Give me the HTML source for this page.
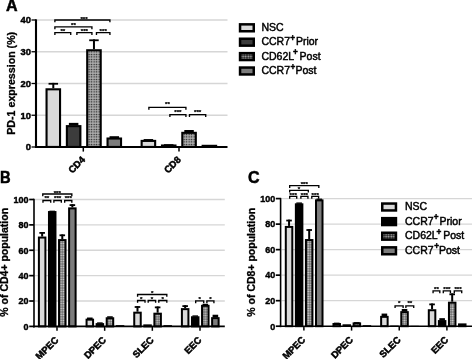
<!DOCTYPE html>
<html><head><meta charset="utf-8"><style>
html,body{margin:0;padding:0;background:#fff;width:472px;height:359px;overflow:hidden}
svg{display:block;font-family:"Liberation Sans", sans-serif;filter:grayscale(1)}
</style></head><body>
<svg width="472" height="359" viewBox="0 0 472 359" font-family='"Liberation Sans", sans-serif'>
<defs>
<pattern id="dotA" x="0.4" y="0.6" width="2.5" height="2.5" patternUnits="userSpaceOnUse"><rect width="2.5" height="2.5" fill="#acacac"/><circle cx="1.25" cy="1.25" r="0.72" fill="#1a1a1a"/></pattern>
<pattern id="dotB" width="2.4" height="2.4" patternUnits="userSpaceOnUse"><rect width="2.4" height="2.4" fill="#6a6a6a"/><circle cx="1.2" cy="1.2" r="0.85" fill="#d4d4d4"/></pattern>
<pattern id="dotL" width="2.6" height="2.4" patternUnits="userSpaceOnUse"><rect width="2.6" height="2.4" fill="#222"/><circle cx="1.3" cy="1.2" r="0.9" fill="#b0b0b0"/></pattern>
</defs>
<rect width="472" height="359" fill="#fff"/>
<line x1="37" y1="115.25" x2="227.5" y2="115.25" stroke="#d6d6d6" stroke-width="1.3"/>
<line x1="37" y1="83.5" x2="227.5" y2="83.5" stroke="#d6d6d6" stroke-width="1.3"/>
<line x1="37" y1="51.75" x2="227.5" y2="51.75" stroke="#d6d6d6" stroke-width="1.3"/>
<line x1="37" y1="20" x2="227.5" y2="20" stroke="#d6d6d6" stroke-width="1.3"/>
<line x1="53.3" y1="88.26" x2="53.3" y2="82.87" stroke="#000" stroke-width="2"/>
<line x1="48.55" y1="83.77" x2="58.05" y2="83.77" stroke="#000" stroke-width="1.8"/>
<rect x="46.55" y="89.31" width="13.5" height="57.64" fill="#dadada" stroke="#000" stroke-width="2.1"/>
<rect x="68.88" y="122.87" width="9.5" height="2.72" fill="#000"/>
<rect x="66.88" y="126.14" width="13.5" height="20.81" fill="#3c3c3c" stroke="#000" stroke-width="2.1"/>
<line x1="93.96" y1="49.21" x2="93.96" y2="39.37" stroke="#000" stroke-width="2"/>
<line x1="89.21" y1="40.27" x2="98.71" y2="40.27" stroke="#000" stroke-width="1.8"/>
<rect x="87.21" y="50.26" width="13.5" height="96.69" fill="url(#dotA)" stroke="#000" stroke-width="2.1"/>
<rect x="109.54" y="136.21" width="9.5" height="1.77" fill="#000"/>
<rect x="107.54" y="138.53" width="13.5" height="8.43" fill="#7c7c7c" stroke="#000" stroke-width="2.1"/>
<rect x="143.65" y="139.06" width="9.5" height="1.29" fill="#000"/>
<rect x="141.65" y="140.91" width="13.5" height="6.04" fill="#dadada" stroke="#000" stroke-width="2.1"/>
<rect x="163.98" y="144.14" width="9.5" height="0.82" fill="#000"/>
<rect x="161.98" y="145.51" width="13.5" height="1.44" fill="#3c3c3c" stroke="#000" stroke-width="2.1"/>
<rect x="184.31" y="130.01" width="9.5" height="2.28" fill="#000"/>
<rect x="182.31" y="132.84" width="13.5" height="14.11" fill="url(#dotA)" stroke="#000" stroke-width="2.1"/>
<rect x="202.64" y="145.83" width="13.5" height="1.12" fill="#7c7c7c" stroke="#000" stroke-width="2.1"/>
<line x1="36" y1="19.3" x2="36" y2="148" stroke="#000" stroke-width="2.1"/>
<line x1="35" y1="147" x2="227.5" y2="147" stroke="#000" stroke-width="2.1"/>
<line x1="31.5" y1="147" x2="36" y2="147" stroke="#000" stroke-width="1.3"/>
<text x="30.9" y="150.35" font-size="9.4" font-weight="bold" text-anchor="end" stroke="#000" stroke-width="0.45" >0</text>
<line x1="31.5" y1="115.25" x2="36" y2="115.25" stroke="#000" stroke-width="1.3"/>
<text x="30.9" y="118.6" font-size="9.4" font-weight="bold" text-anchor="end" stroke="#000" stroke-width="0.45" >10</text>
<line x1="31.5" y1="83.5" x2="36" y2="83.5" stroke="#000" stroke-width="1.3"/>
<text x="30.9" y="86.85" font-size="9.4" font-weight="bold" text-anchor="end" stroke="#000" stroke-width="0.45" >20</text>
<line x1="31.5" y1="51.75" x2="36" y2="51.75" stroke="#000" stroke-width="1.3"/>
<text x="30.9" y="55.1" font-size="9.4" font-weight="bold" text-anchor="end" stroke="#000" stroke-width="0.45" >30</text>
<line x1="31.5" y1="20" x2="36" y2="20" stroke="#000" stroke-width="1.3"/>
<text x="30.9" y="23.35" font-size="9.4" font-weight="bold" text-anchor="end" stroke="#000" stroke-width="0.45" >40</text>
<line x1="83.3" y1="147" x2="83.3" y2="151.6" stroke="#000" stroke-width="1.5"/>
<text transform="translate(85.7,160.3) rotate(-45)" font-size="9.5" font-weight="bold" text-anchor="end" stroke="#000" stroke-width="0.5">CD4</text>
<line x1="179" y1="147" x2="179" y2="151.6" stroke="#000" stroke-width="1.5"/>
<text transform="translate(181.4,160.3) rotate(-45)" font-size="9.5" font-weight="bold" text-anchor="end" stroke="#000" stroke-width="0.5">CD8</text>
<path d="M54.88 22.3V20H109.92V22.3" fill="none" stroke="#000" stroke-width="1.35"/>
<text x="84" y="21.2" font-size="6.2" font-weight="bold" text-anchor="middle" stroke="#000" stroke-width="0.25" >***</text>
<path d="M54.88 29.2V26.9H91.92V29.2" fill="none" stroke="#000" stroke-width="1.35"/>
<text x="73.4" y="26.6" font-size="6.2" font-weight="bold" text-anchor="middle" stroke="#000" stroke-width="0.25" >**</text>
<path d="M54.88 34.9V32.6H70.73V34.9" fill="none" stroke="#000" stroke-width="1.35"/>
<text x="62.8" y="33" font-size="6.2" font-weight="bold" text-anchor="middle" stroke="#000" stroke-width="0.25" >**</text>
<path d="M76.88 34.9V32.6H91.92V34.9" fill="none" stroke="#000" stroke-width="1.35"/>
<text x="84.4" y="33" font-size="6.2" font-weight="bold" text-anchor="middle" stroke="#000" stroke-width="0.25" >***</text>
<path d="M96.47 34.9V32.6H109.92V34.9" fill="none" stroke="#000" stroke-width="1.35"/>
<text x="103.2" y="33" font-size="6.2" font-weight="bold" text-anchor="middle" stroke="#000" stroke-width="0.25" >***</text>
<path d="M148.88 109.7V107.4H185.92V109.7" fill="none" stroke="#000" stroke-width="1.35"/>
<text x="167.4" y="106.4" font-size="6.2" font-weight="bold" text-anchor="middle" stroke="#000" stroke-width="0.25" >**</text>
<path d="M169.88 116.9V114.6H185.92V116.9" fill="none" stroke="#000" stroke-width="1.35"/>
<text x="177.9" y="113.6" font-size="6.2" font-weight="bold" text-anchor="middle" stroke="#000" stroke-width="0.25" >***</text>
<path d="M189.48 116.9V114.6H205.72V116.9" fill="none" stroke="#000" stroke-width="1.35"/>
<text x="197.6" y="113.6" font-size="6.2" font-weight="bold" text-anchor="middle" stroke="#000" stroke-width="0.25" >***</text>
<text transform="translate(14.6,83.3) rotate(-90)" font-size="10.65" font-weight="bold" text-anchor="middle" stroke="#000" stroke-width="0.3">PD-1 expression (%)</text>
<text x="5.9" y="11.2" font-size="16" font-weight="bold" text-anchor="start" stroke="#000" stroke-width="0.5" >A</text>
<rect x="240.05" y="24.35" width="13.7" height="6.9" fill="#dadada" stroke="#000" stroke-width="2.5"/>
<text x="261.4" y="31" font-size="10.5" font-weight="normal" text-anchor="start" stroke="#000" stroke-width="0.45" >NSC</text>
<rect x="240.05" y="38.75" width="13.7" height="6.9" fill="#3c3c3c" stroke="#000" stroke-width="2.5"/>
<text x="261.4" y="45.4" font-size="10.5" font-weight="normal" text-anchor="start" stroke="#000" stroke-width="0.45" >CCR7<tspan x="290.2" font-size="8.2" font-weight="bold" dy="-4.6">+</tspan><tspan x="295.9" dy="4.6">Prior</tspan></text>
<rect x="240.05" y="53.15" width="13.7" height="6.9" fill="url(#dotL)" stroke="#000" stroke-width="2.5"/>
<text x="261.4" y="59.8" font-size="10.5" font-weight="normal" text-anchor="start" stroke="#000" stroke-width="0.45" >CD62L<tspan x="292.9" font-size="8.2" font-weight="bold" dy="-4.6">+</tspan><tspan x="299.6" dy="4.6">Post</tspan></text>
<rect x="240.05" y="67.55" width="13.7" height="6.9" fill="#7c7c7c" stroke="#000" stroke-width="2.5"/>
<text x="261.4" y="74.2" font-size="10.5" font-weight="normal" text-anchor="start" stroke="#000" stroke-width="0.45" >CCR7<tspan x="290.6" font-size="8.2" font-weight="bold" dy="-4.6">+</tspan><tspan x="295.4" dy="4.6">Post</tspan></text>
<line x1="35" y1="301.02" x2="224.8" y2="301.02" stroke="#d6d6d6" stroke-width="1.3"/>
<line x1="35" y1="275.64" x2="224.8" y2="275.64" stroke="#d6d6d6" stroke-width="1.3"/>
<line x1="35" y1="250.26" x2="224.8" y2="250.26" stroke="#d6d6d6" stroke-width="1.3"/>
<line x1="35" y1="224.88" x2="224.8" y2="224.88" stroke="#d6d6d6" stroke-width="1.3"/>
<line x1="35" y1="199.5" x2="224.8" y2="199.5" stroke="#d6d6d6" stroke-width="1.3"/>
<line x1="42.15" y1="236.55" x2="42.15" y2="231.99" stroke="#000" stroke-width="2"/>
<line x1="39.35" y1="232.89" x2="44.95" y2="232.89" stroke="#000" stroke-width="1.8"/>
<rect x="38.9" y="237.55" width="6.5" height="88.85" fill="#dadada" stroke="#000" stroke-width="2"/>
<rect x="49.42" y="210.67" width="5.6" height="0.88" fill="#000"/>
<rect x="48.97" y="212.05" width="6.5" height="114.35" fill="#000000" stroke="#000" stroke-width="2"/>
<line x1="62.29" y1="239.09" x2="62.29" y2="234.4" stroke="#000" stroke-width="2"/>
<line x1="59.49" y1="235.3" x2="65.09" y2="235.3" stroke="#000" stroke-width="1.8"/>
<rect x="59.04" y="240.09" width="6.5" height="86.31" fill="url(#dotB)" stroke="#000" stroke-width="2"/>
<line x1="72.36" y1="207.37" x2="72.36" y2="204.2" stroke="#000" stroke-width="2"/>
<line x1="69.56" y1="205.1" x2="75.16" y2="205.1" stroke="#000" stroke-width="1.8"/>
<rect x="69.11" y="208.37" width="6.5" height="118.03" fill="#7c7c7c" stroke="#000" stroke-width="2"/>
<rect x="87.02" y="317.52" width="5.6" height="1.64" fill="#000"/>
<rect x="86.57" y="319.66" width="6.5" height="6.74" fill="#dadada" stroke="#000" stroke-width="2"/>
<rect x="97.09" y="322.34" width="5.6" height="1.26" fill="#000"/>
<rect x="96.64" y="324.1" width="6.5" height="2.3" fill="#000000" stroke="#000" stroke-width="2"/>
<rect x="107.16" y="316.25" width="5.6" height="1.52" fill="#000"/>
<rect x="106.71" y="318.26" width="6.5" height="8.14" fill="url(#dotB)" stroke="#000" stroke-width="2"/>
<rect x="115.78" y="325.13" width="8.5" height="1.27" fill="#000"/>
<line x1="137.49" y1="311.68" x2="137.49" y2="306.1" stroke="#000" stroke-width="2"/>
<line x1="134.69" y1="307" x2="140.29" y2="307" stroke="#000" stroke-width="1.8"/>
<rect x="134.24" y="312.68" width="6.5" height="13.72" fill="#dadada" stroke="#000" stroke-width="2"/>
<rect x="144.31" y="325.37" width="6.5" height="1.03" fill="#000000" stroke="#000" stroke-width="2"/>
<line x1="157.63" y1="312.69" x2="157.63" y2="306.48" stroke="#000" stroke-width="2"/>
<line x1="154.83" y1="307.38" x2="160.43" y2="307.38" stroke="#000" stroke-width="1.8"/>
<rect x="154.38" y="313.69" width="6.5" height="12.71" fill="url(#dotB)" stroke="#000" stroke-width="2"/>
<rect x="163.45" y="325.13" width="8.5" height="1.27" fill="#000"/>
<line x1="185.16" y1="308.13" x2="185.16" y2="305.21" stroke="#000" stroke-width="2"/>
<line x1="182.36" y1="306.11" x2="187.96" y2="306.11" stroke="#000" stroke-width="1.8"/>
<rect x="181.91" y="309.13" width="6.5" height="17.27" fill="#dadada" stroke="#000" stroke-width="2"/>
<rect x="192.43" y="315.36" width="5.6" height="1.39" fill="#000"/>
<rect x="191.98" y="317.25" width="6.5" height="9.15" fill="#000000" stroke="#000" stroke-width="2"/>
<rect x="202.5" y="303.81" width="5.6" height="1.52" fill="#000"/>
<rect x="202.05" y="305.83" width="6.5" height="20.57" fill="url(#dotB)" stroke="#000" stroke-width="2"/>
<rect x="212.57" y="314.73" width="5.6" height="2.91" fill="#000"/>
<rect x="212.12" y="318.14" width="6.5" height="8.26" fill="#7c7c7c" stroke="#000" stroke-width="2"/>
<line x1="34" y1="198.8" x2="34" y2="327.4" stroke="#000" stroke-width="1.6"/>
<line x1="33.2" y1="326.4" x2="224.8" y2="326.4" stroke="#000" stroke-width="1.6"/>
<line x1="29.2" y1="326.4" x2="34" y2="326.4" stroke="#000" stroke-width="1.7"/>
<text x="28.6" y="329.7" font-size="9" font-weight="bold" text-anchor="end" stroke="#000" stroke-width="0.4" >0</text>
<line x1="29.2" y1="301.02" x2="34" y2="301.02" stroke="#000" stroke-width="1.7"/>
<text x="28.6" y="304.32" font-size="9" font-weight="bold" text-anchor="end" stroke="#000" stroke-width="0.4" >20</text>
<line x1="29.2" y1="275.64" x2="34" y2="275.64" stroke="#000" stroke-width="1.7"/>
<text x="28.6" y="278.94" font-size="9" font-weight="bold" text-anchor="end" stroke="#000" stroke-width="0.4" >40</text>
<line x1="29.2" y1="250.26" x2="34" y2="250.26" stroke="#000" stroke-width="1.7"/>
<text x="28.6" y="253.56" font-size="9" font-weight="bold" text-anchor="end" stroke="#000" stroke-width="0.4" >60</text>
<line x1="29.2" y1="224.88" x2="34" y2="224.88" stroke="#000" stroke-width="1.7"/>
<text x="28.6" y="228.18" font-size="9" font-weight="bold" text-anchor="end" stroke="#000" stroke-width="0.4" >80</text>
<line x1="29.2" y1="199.5" x2="34" y2="199.5" stroke="#000" stroke-width="1.7"/>
<text x="28.6" y="202.8" font-size="9" font-weight="bold" text-anchor="end" stroke="#000" stroke-width="0.4" >100</text>
<line x1="57" y1="326.4" x2="57" y2="330.8" stroke="#000" stroke-width="1.5"/>
<text transform="translate(59,340.6) rotate(-45)" font-size="9.5" font-weight="bold" text-anchor="end" stroke="#000" stroke-width="0.5">MPEC</text>
<line x1="104.67" y1="326.4" x2="104.67" y2="330.8" stroke="#000" stroke-width="1.5"/>
<text transform="translate(106.67,340.6) rotate(-45)" font-size="9.5" font-weight="bold" text-anchor="end" stroke="#000" stroke-width="0.5">DPEC</text>
<line x1="152.34" y1="326.4" x2="152.34" y2="330.8" stroke="#000" stroke-width="1.5"/>
<text transform="translate(154.34,340.6) rotate(-45)" font-size="9.5" font-weight="bold" text-anchor="end" stroke="#000" stroke-width="0.5">SLEC</text>
<line x1="200.01" y1="326.4" x2="200.01" y2="330.8" stroke="#000" stroke-width="1.5"/>
<text transform="translate(202.01,340.6) rotate(-45)" font-size="9.5" font-weight="bold" text-anchor="end" stroke="#000" stroke-width="0.5">EEC</text>
<path d="M42.77 196.3V194H71.83V196.3" fill="none" stroke="#000" stroke-width="1.35"/>
<text x="57.3" y="194.75" font-size="6.2" font-weight="bold" text-anchor="middle" stroke="#000" stroke-width="0.25" >***</text>
<path d="M42.97 202.8V200.5H50.73V202.8" fill="none" stroke="#000" stroke-width="1.35"/>
<text x="46.85" y="200.2" font-size="6.2" font-weight="bold" text-anchor="middle" stroke="#000" stroke-width="0.25" >**</text>
<path d="M53.88 202.8V200.5H61.33V202.8" fill="none" stroke="#000" stroke-width="1.35"/>
<text x="57.6" y="200.2" font-size="6.2" font-weight="bold" text-anchor="middle" stroke="#000" stroke-width="0.25" >***</text>
<path d="M64.67 202.8V200.5H71.83V202.8" fill="none" stroke="#000" stroke-width="1.35"/>
<text x="68.25" y="200.2" font-size="6.2" font-weight="bold" text-anchor="middle" stroke="#000" stroke-width="0.25" >***</text>
<path d="M137.58 296.8V294.5H166.82V296.8" fill="none" stroke="#000" stroke-width="1.35"/>
<text x="152.2" y="294.85" font-size="6.2" font-weight="bold" text-anchor="middle" stroke="#000" stroke-width="0.25" >*</text>
<path d="M137.58 302.8V300.5H145.02V302.8" fill="none" stroke="#000" stroke-width="1.35"/>
<text x="141.3" y="300.6" font-size="6.2" font-weight="bold" text-anchor="middle" stroke="#000" stroke-width="0.25" >*</text>
<path d="M148.18 302.8V300.5H155.62V302.8" fill="none" stroke="#000" stroke-width="1.35"/>
<text x="151.9" y="300.6" font-size="6.2" font-weight="bold" text-anchor="middle" stroke="#000" stroke-width="0.25" >*</text>
<path d="M158.78 302.8V300.5H166.82V302.8" fill="none" stroke="#000" stroke-width="1.35"/>
<text x="162.8" y="300.6" font-size="6.2" font-weight="bold" text-anchor="middle" stroke="#000" stroke-width="0.25" >*</text>
<path d="M195.68 303.2V300.9H203.72V303.2" fill="none" stroke="#000" stroke-width="1.35"/>
<text x="199.7" y="300.75" font-size="6.2" font-weight="bold" text-anchor="middle" stroke="#000" stroke-width="0.25" >*</text>
<path d="M206.88 303.2V300.9H213.92V303.2" fill="none" stroke="#000" stroke-width="1.35"/>
<text x="210.4" y="300.75" font-size="6.2" font-weight="bold" text-anchor="middle" stroke="#000" stroke-width="0.25" >*</text>
<text transform="translate(8.3,262.3) rotate(-90)" font-size="10.5" font-weight="bold" text-anchor="middle" stroke="#000" stroke-width="0.3">% of CD4+ population</text>
<text transform="translate(0.1,183.1) scale(0.92,1)" font-size="16" font-weight="bold" stroke="#000" stroke-width="0.5">B</text>
<line x1="281.6" y1="300.68" x2="472" y2="300.68" stroke="#d6d6d6" stroke-width="1.3"/>
<line x1="281.6" y1="275.16" x2="472" y2="275.16" stroke="#d6d6d6" stroke-width="1.3"/>
<line x1="281.6" y1="249.64" x2="472" y2="249.64" stroke="#d6d6d6" stroke-width="1.3"/>
<line x1="281.6" y1="224.12" x2="472" y2="224.12" stroke="#d6d6d6" stroke-width="1.3"/>
<line x1="281.6" y1="198.6" x2="472" y2="198.6" stroke="#d6d6d6" stroke-width="1.3"/>
<line x1="289.05" y1="225.91" x2="289.05" y2="219.65" stroke="#000" stroke-width="2"/>
<line x1="286.25" y1="220.55" x2="291.85" y2="220.55" stroke="#000" stroke-width="1.8"/>
<rect x="285.8" y="226.91" width="6.5" height="99.29" fill="#dadada" stroke="#000" stroke-width="2"/>
<rect x="296.32" y="202.43" width="5.6" height="1.39" fill="#000"/>
<rect x="295.87" y="204.32" width="6.5" height="121.88" fill="#000000" stroke="#000" stroke-width="2"/>
<line x1="309.19" y1="239.05" x2="309.19" y2="229.1" stroke="#000" stroke-width="2"/>
<line x1="306.39" y1="230" x2="311.99" y2="230" stroke="#000" stroke-width="1.8"/>
<rect x="305.94" y="240.05" width="6.5" height="86.15" fill="url(#dotB)" stroke="#000" stroke-width="2"/>
<rect x="316.46" y="198.6" width="5.6" height="1.27" fill="#000"/>
<rect x="316.01" y="200.37" width="6.5" height="125.83" fill="#7c7c7c" stroke="#000" stroke-width="2"/>
<rect x="333.92" y="322.63" width="5.6" height="0.88" fill="#000"/>
<rect x="333.47" y="324.01" width="6.5" height="2.19" fill="#dadada" stroke="#000" stroke-width="2"/>
<rect x="342.54" y="324.29" width="8.5" height="1.91" fill="#000"/>
<rect x="354.06" y="321.99" width="5.6" height="0.88" fill="#000"/>
<rect x="353.61" y="323.37" width="6.5" height="2.83" fill="url(#dotB)" stroke="#000" stroke-width="2"/>
<rect x="362.68" y="325.18" width="8.5" height="1.02" fill="#000"/>
<rect x="381.59" y="313.57" width="5.6" height="2.8" fill="#000"/>
<rect x="381.14" y="316.86" width="6.5" height="9.34" fill="#dadada" stroke="#000" stroke-width="2"/>
<rect x="390.21" y="325.56" width="8.5" height="0.64" fill="#000"/>
<rect x="401.73" y="308.97" width="5.6" height="2.67" fill="#000"/>
<rect x="401.28" y="312.14" width="6.5" height="14.06" fill="url(#dotB)" stroke="#000" stroke-width="2"/>
<rect x="410.35" y="325.82" width="8.5" height="0.38" fill="#000"/>
<line x1="432.06" y1="309.23" x2="432.06" y2="303.49" stroke="#000" stroke-width="2"/>
<line x1="429.26" y1="304.39" x2="434.86" y2="304.39" stroke="#000" stroke-width="1.8"/>
<rect x="428.81" y="310.23" width="6.5" height="15.97" fill="#dadada" stroke="#000" stroke-width="2"/>
<rect x="439.33" y="318.16" width="5.6" height="2.41" fill="#000"/>
<rect x="438.88" y="321.08" width="6.5" height="5.12" fill="#000000" stroke="#000" stroke-width="2"/>
<line x1="452.2" y1="301.7" x2="452.2" y2="293.41" stroke="#000" stroke-width="2"/>
<line x1="449.4" y1="294.31" x2="455" y2="294.31" stroke="#000" stroke-width="1.8"/>
<rect x="448.95" y="302.7" width="6.5" height="23.5" fill="url(#dotB)" stroke="#000" stroke-width="2"/>
<rect x="459.02" y="324.39" width="6.5" height="1.81" fill="#7c7c7c" stroke="#000" stroke-width="2"/>
<line x1="280.6" y1="197.9" x2="280.6" y2="327.2" stroke="#000" stroke-width="1.6"/>
<line x1="279.8" y1="326.2" x2="472" y2="326.2" stroke="#000" stroke-width="1.6"/>
<line x1="275.8" y1="326.2" x2="280.6" y2="326.2" stroke="#000" stroke-width="1.7"/>
<text x="275.2" y="329.5" font-size="9" font-weight="bold" text-anchor="end" stroke="#000" stroke-width="0.4" >0</text>
<line x1="275.8" y1="300.68" x2="280.6" y2="300.68" stroke="#000" stroke-width="1.7"/>
<text x="275.2" y="303.98" font-size="9" font-weight="bold" text-anchor="end" stroke="#000" stroke-width="0.4" >20</text>
<line x1="275.8" y1="275.16" x2="280.6" y2="275.16" stroke="#000" stroke-width="1.7"/>
<text x="275.2" y="278.46" font-size="9" font-weight="bold" text-anchor="end" stroke="#000" stroke-width="0.4" >40</text>
<line x1="275.8" y1="249.64" x2="280.6" y2="249.64" stroke="#000" stroke-width="1.7"/>
<text x="275.2" y="252.94" font-size="9" font-weight="bold" text-anchor="end" stroke="#000" stroke-width="0.4" >60</text>
<line x1="275.8" y1="224.12" x2="280.6" y2="224.12" stroke="#000" stroke-width="1.7"/>
<text x="275.2" y="227.42" font-size="9" font-weight="bold" text-anchor="end" stroke="#000" stroke-width="0.4" >80</text>
<line x1="275.8" y1="198.6" x2="280.6" y2="198.6" stroke="#000" stroke-width="1.7"/>
<text x="275.2" y="201.9" font-size="9" font-weight="bold" text-anchor="end" stroke="#000" stroke-width="0.4" >100</text>
<line x1="303.9" y1="326.2" x2="303.9" y2="330.6" stroke="#000" stroke-width="1.5"/>
<text transform="translate(305.9,340.4) rotate(-45)" font-size="9.5" font-weight="bold" text-anchor="end" stroke="#000" stroke-width="0.5">MPEC</text>
<line x1="351.57" y1="326.2" x2="351.57" y2="330.6" stroke="#000" stroke-width="1.5"/>
<text transform="translate(353.57,340.4) rotate(-45)" font-size="9.5" font-weight="bold" text-anchor="end" stroke="#000" stroke-width="0.5">DPEC</text>
<line x1="399.24" y1="326.2" x2="399.24" y2="330.6" stroke="#000" stroke-width="1.5"/>
<text transform="translate(401.24,340.4) rotate(-45)" font-size="9.5" font-weight="bold" text-anchor="end" stroke="#000" stroke-width="0.5">SLEC</text>
<line x1="446.91" y1="326.2" x2="446.91" y2="330.6" stroke="#000" stroke-width="1.5"/>
<text transform="translate(448.91,340.4) rotate(-45)" font-size="9.5" font-weight="bold" text-anchor="end" stroke="#000" stroke-width="0.5">EEC</text>
<path d="M289.68 187.9V185.6H318.82V187.9" fill="none" stroke="#000" stroke-width="1.35"/>
<text x="304.25" y="186.25" font-size="6.2" font-weight="bold" text-anchor="middle" stroke="#000" stroke-width="0.25" >***</text>
<path d="M289.68 192.6V190.3H308.32V192.6" fill="none" stroke="#000" stroke-width="1.35"/>
<text x="299" y="191.3" font-size="6.2" font-weight="bold" text-anchor="middle" stroke="#000" stroke-width="0.25" >*</text>
<path d="M289.68 198.7V196.4H296.72V198.7" fill="none" stroke="#000" stroke-width="1.35"/>
<text x="293.2" y="196.5" font-size="6.2" font-weight="bold" text-anchor="middle" stroke="#000" stroke-width="0.25" >***</text>
<path d="M300.88 198.7V196.4H307.93V198.7" fill="none" stroke="#000" stroke-width="1.35"/>
<text x="304.4" y="196.5" font-size="6.2" font-weight="bold" text-anchor="middle" stroke="#000" stroke-width="0.25" >***</text>
<path d="M311.78 198.7V196.4H318.62V198.7" fill="none" stroke="#000" stroke-width="1.35"/>
<text x="315.2" y="196.5" font-size="6.2" font-weight="bold" text-anchor="middle" stroke="#000" stroke-width="0.25" >***</text>
<path d="M395.07 308.1V305.8H403.12V308.1" fill="none" stroke="#000" stroke-width="1.35"/>
<text x="399.1" y="304.7" font-size="6.2" font-weight="bold" text-anchor="middle" stroke="#000" stroke-width="0.25" >*</text>
<path d="M405.88 308.1V305.8H413.72V308.1" fill="none" stroke="#000" stroke-width="1.35"/>
<text x="409.8" y="304.7" font-size="6.2" font-weight="bold" text-anchor="middle" stroke="#000" stroke-width="0.25" >**</text>
<path d="M433.07 293.2V290.9H439.82V293.2" fill="none" stroke="#000" stroke-width="1.35"/>
<text x="436.45" y="290.8" font-size="6.2" font-weight="bold" text-anchor="middle" stroke="#000" stroke-width="0.25" >**</text>
<path d="M443.28 293.2V290.9H450.43V293.2" fill="none" stroke="#000" stroke-width="1.35"/>
<text x="446.85" y="290.8" font-size="6.2" font-weight="bold" text-anchor="middle" stroke="#000" stroke-width="0.25" >***</text>
<path d="M454.28 293.2V290.9H461.72V293.2" fill="none" stroke="#000" stroke-width="1.35"/>
<text x="458" y="290.8" font-size="6.2" font-weight="bold" text-anchor="middle" stroke="#000" stroke-width="0.25" >***</text>
<text transform="translate(255.2,262.3) rotate(-90)" font-size="10.5" font-weight="bold" text-anchor="middle" stroke="#000" stroke-width="0.3">% of CD8+ population</text>
<text x="248" y="183.1" font-size="16" font-weight="bold" text-anchor="start" stroke="#000" stroke-width="0.5" >C</text>
<rect x="382.25" y="203.55" width="13.7" height="6.9" fill="#dadada" stroke="#000" stroke-width="2.5"/>
<text x="405" y="210.2" font-size="10.5" font-weight="normal" text-anchor="start" stroke="#000" stroke-width="0.45" >NSC</text>
<rect x="382.25" y="218.15" width="13.7" height="6.9" fill="#000000" stroke="#000" stroke-width="2.5"/>
<text x="405" y="224.8" font-size="10.5" font-weight="normal" text-anchor="start" stroke="#000" stroke-width="0.45" >CCR7<tspan x="433.8" font-size="8.2" font-weight="bold" dy="-4.6">+</tspan><tspan x="439.5" dy="4.6">Prior</tspan></text>
<rect x="382.25" y="232.75" width="13.7" height="6.9" fill="url(#dotL)" stroke="#000" stroke-width="2.5"/>
<text x="405" y="239.4" font-size="10.5" font-weight="normal" text-anchor="start" stroke="#000" stroke-width="0.45" >CD62L<tspan x="436.5" font-size="8.2" font-weight="bold" dy="-4.6">+</tspan><tspan x="443.2" dy="4.6">Post</tspan></text>
<rect x="382.25" y="247.35" width="13.7" height="6.9" fill="#7c7c7c" stroke="#000" stroke-width="2.5"/>
<text x="405" y="254" font-size="10.5" font-weight="normal" text-anchor="start" stroke="#000" stroke-width="0.45" >CCR7<tspan x="434.2" font-size="8.2" font-weight="bold" dy="-4.6">+</tspan><tspan x="439" dy="4.6">Post</tspan></text>
</svg>
</body></html>
